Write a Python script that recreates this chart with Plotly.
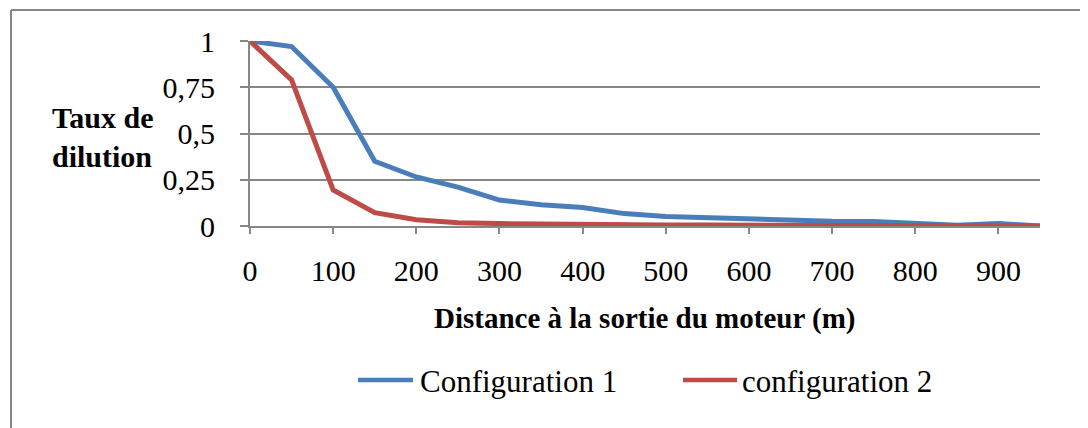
import plotly.graph_objects as go

distance = [0, 50, 100, 150, 200, 250, 300, 350, 400, 450, 500, 550, 600, 650, 700, 750, 800, 850, 900, 950]
config1 = [1.0, 0.97, 0.75, 0.35, 0.265, 0.21, 0.14, 0.115, 0.10, 0.067, 0.052, 0.045, 0.036, 0.027, 0.026, 0.025, 0.016, 0.004, 0.013, 0.0]
config2 = [1.0, 0.79, 0.195, 0.072, 0.034, 0.018, 0.013, 0.010, 0.008, 0.007, 0.006, 0.005, 0.004, 0.003, 0.003, 0.002, 0.002, 0.001, 0.001, 0.0]
series_names = ["Configuration 1", "configuration 2"]
colors = ["#4A7EBB", "#BE4B48"]
x_ticks = [0, 100, 200, 300, 400, 500, 600, 700, 800, 900]
y_ticks = [0, 0.25, 0.5, 0.75, 1]
y_tick_text = ["0", "0,25", "0,5", "0,75", "1"]
x_title = "Distance à la sortie du moteur (m)"
y_title = "Taux de<br>dilution"

# page body has an 8px margin; figure sized to fit the window
OFF = 8
W, H = 1088 - OFF, 428 - OFF
L, R, T, B = 250, 1040, 41, 226  # plot area in window pixels
pw, ph = R - L, B - T


def px(x):
    return (x - L) / pw


def py(y):
    return (B - y) / ph


FONT = '"Liberation Serif", "Times New Roman", serif'
GRID = "#878787"

fig = go.Figure()
for name, vals, col in zip(series_names, [config1, config2], colors):
    fig.add_trace(go.Scatter(x=distance, y=vals, mode="lines", name=name,
                             line=dict(color=col, width=5), showlegend=False,
                             cliponaxis=False))

shapes = []
annotations = []
# outer chart border (top and left visible)
shapes.append(dict(type="line", xref="paper", yref="paper", x0=px(11), x1=px(11),
                   y0=py(440), y1=py(10), line=dict(color=GRID, width=2)))
shapes.append(dict(type="line", xref="paper", yref="paper", x0=px(11), x1=px(1100),
                   y0=py(10), y1=py(10), line=dict(color=GRID, width=2)))

# manual legend
leg = [(358, 413, 418), (683, 737, 740)]
for (x0, x1, xt), name, col in zip(leg, series_names, colors):
    shapes.append(dict(type="line", xref="paper", yref="paper", x0=px(x0), x1=px(x1),
                       y0=py(380), y1=py(380), line=dict(color=col, width=4.5)))
    annotations.append(dict(text=name, xref="paper", yref="paper", x=px(xt), y=py(381),
                            xanchor="left", yanchor="middle", showarrow=False,
                            font=dict(family=FONT, size=31, color="black")))

annotations.append(dict(text="<b>%s</b>" % x_title, xref="paper", yref="paper",
                        x=px(645), y=py(318), xanchor="center", yanchor="middle",
                        showarrow=False, font=dict(family=FONT, size=29, color="black")))
annotations.append(dict(text="<b>%s</b>" % y_title, xref="paper", yref="paper",
                        x=px(102), y=py(137), xanchor="center", yanchor="middle",
                        showarrow=False, align="left",
                        font=dict(family=FONT, size=30, color="black")))

fig.update_layout(
    width=W, height=H,
    margin=dict(l=L - OFF, r=W - (R - OFF), t=T - OFF, b=H - (B - OFF), pad=0),
    paper_bgcolor="white", plot_bgcolor="white",
    font=dict(family=FONT, size=30, color="black"),
    shapes=shapes, annotations=annotations,
    xaxis=dict(range=[0, 950], tickmode="array", tickvals=x_ticks,
               ticktext=[str(v) for v in x_ticks],
               showgrid=False, zeroline=False, showline=True, linecolor=GRID, linewidth=2,
               ticks="outside", ticklen=6, tickwidth=2, tickcolor=GRID,
               ticklabelstandoff=11, tickfont=dict(family=FONT, size=30, color="black")),
    yaxis=dict(range=[0, 1], tickmode="array", tickvals=y_ticks, ticktext=y_tick_text,
               showgrid=True, gridcolor=GRID, gridwidth=2, zeroline=False,
               showline=True, linecolor=GRID, linewidth=2,
               ticks="outside", ticklen=8, tickwidth=2, tickcolor=GRID,
               ticklabelstandoff=19, tickfont=dict(family=FONT, size=30, color="black")),
)

fig.write_html("out.html")
